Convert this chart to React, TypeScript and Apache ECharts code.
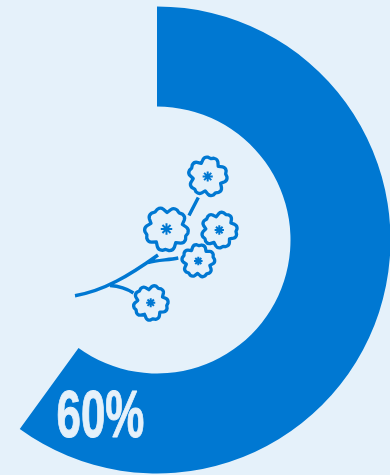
import React, { useEffect, useRef } from "react";
import * as echarts from "echarts";

const shareLabels = ["Share", "Rest"];
const shareValues = [60, 40];

const INK = "#0078D2";
const PAPER = "#E5F1FA";

// Blossom outline on a unit circle: five notched petals with soft valleys between them.
function blossomPath(): string {
  const pt = (deg: number, r: number) => {
    const a = (deg * Math.PI) / 180;
    return `${(r * Math.cos(a)).toFixed(3)} ${(r * Math.sin(a)).toFixed(3)}`;
  };
  let d = `M${pt(-36, 0.75)}`;
  for (let k = 0; k < 5; k++) {
    const a = k * 72;
    d += `L${pt(a - 25, 0.91)}Q${pt(a - 19, 1.03)} ${pt(a - 9, 0.99)}`;
    d += `L${pt(a, 0.93)}L${pt(a + 9, 0.99)}`;
    d += `Q${pt(a + 19, 1.03)} ${pt(a + 25, 0.91)}L${pt(a + 36, 0.75)}`;
  }
  return d + "Z";
}

// Small star of spokes at the heart of each blossom.
function heartPath(): string {
  let d = "";
  for (let k = 0; k < 4; k++) {
    const a = (k * 45 * Math.PI) / 180;
    const x = Math.cos(a).toFixed(3);
    const y = Math.sin(a).toFixed(3);
    d += `M${x} ${y}L${(-Math.cos(a)).toFixed(3)} ${(-Math.sin(a)).toFixed(3)}`;
  }
  return d;
}

const BRANCH =
  "M75 295.7C104 291 130 275 158 255" +
  "M148 262.5C158 260 168 260 178.3 258" +
  "M110 285.5C118 286 126 288 133.5 293" +
  "M198.3 197.5L189 215.5";

echarts.graphic.registerShape("blossom", echarts.graphic.extendPath(blossomPath(), {}));
echarts.graphic.registerShape("heart", echarts.graphic.extendPath(heartPath(), {}));
echarts.graphic.registerShape("branch", echarts.graphic.extendPath(BRANCH, {}));

// x, y, radius, rotation of each blossom
const blossoms = [
  [207.7, 176.5, 19.5, -8],
  [166.5, 229, 22, 20],
  [219.3, 230, 18, 5],
  [198.3, 261, 16.5, -15],
  [150.7, 302.7, 17.5, 10],
];

export default function App() {
  const ref = useRef<HTMLDivElement>(null);

  useEffect(() => {
    document.body.style.margin = "0";
    const chart = echarts.init(ref.current!, undefined, { renderer: "svg" });

    const blossomMarks = blossoms.flatMap(([x, y, r, rot]) => [
      {
        type: "blossom",
        x,
        y,
        scaleX: r,
        scaleY: r,
        rotation: (-rot * Math.PI) / 180,
        silent: true,
        style: { fill: "none", stroke: INK, lineWidth: 3.3, strokeNoScale: true, lineJoin: "round" },
      },
      {
        type: "heart",
        x,
        y,
        scaleX: r * 0.26,
        scaleY: r * 0.26,
        silent: true,
        style: { fill: "none", stroke: INK, lineWidth: 2, strokeNoScale: true },
      },
    ]);

    chart.setOption({
      animation: false,
      backgroundColor: PAPER,
      series: [
        {
          type: "pie",
          silent: true,
          center: [157, 240],
          radius: [133.5, 233.5],
          startAngle: 90,
          clockwise: true,
          label: { show: false },
          labelLine: { show: false },
          data: shareLabels.map((name, i) => ({
            name,
            value: shareValues[i],
            itemStyle: { color: i === 0 ? INK : "transparent" },
          })),
        },
      ],
      graphic: [
        {
          type: "branch",
          silent: true,
          style: { fill: "none", stroke: INK, lineWidth: 3.4 },
        },
        ...blossomMarks,
        {
          type: "text",
          x: 56.5,
          y: 414.5,
          z: 20,
          scaleX: 0.665,
          silent: true,
          style: {
            text: `${shareValues[0]}%`,
            fill: PAPER,
            stroke: PAPER,
            lineWidth: 1,
            font: 'bold 66px "Liberation Sans Narrow", "Liberation Sans", sans-serif',
            textAlign: "left",
            textVerticalAlign: "middle",
          },
        },
      ],
    });

    return () => chart.dispose();
  }, []);

  return <div ref={ref} style={{ width: 390, height: 475 }} />;
}
